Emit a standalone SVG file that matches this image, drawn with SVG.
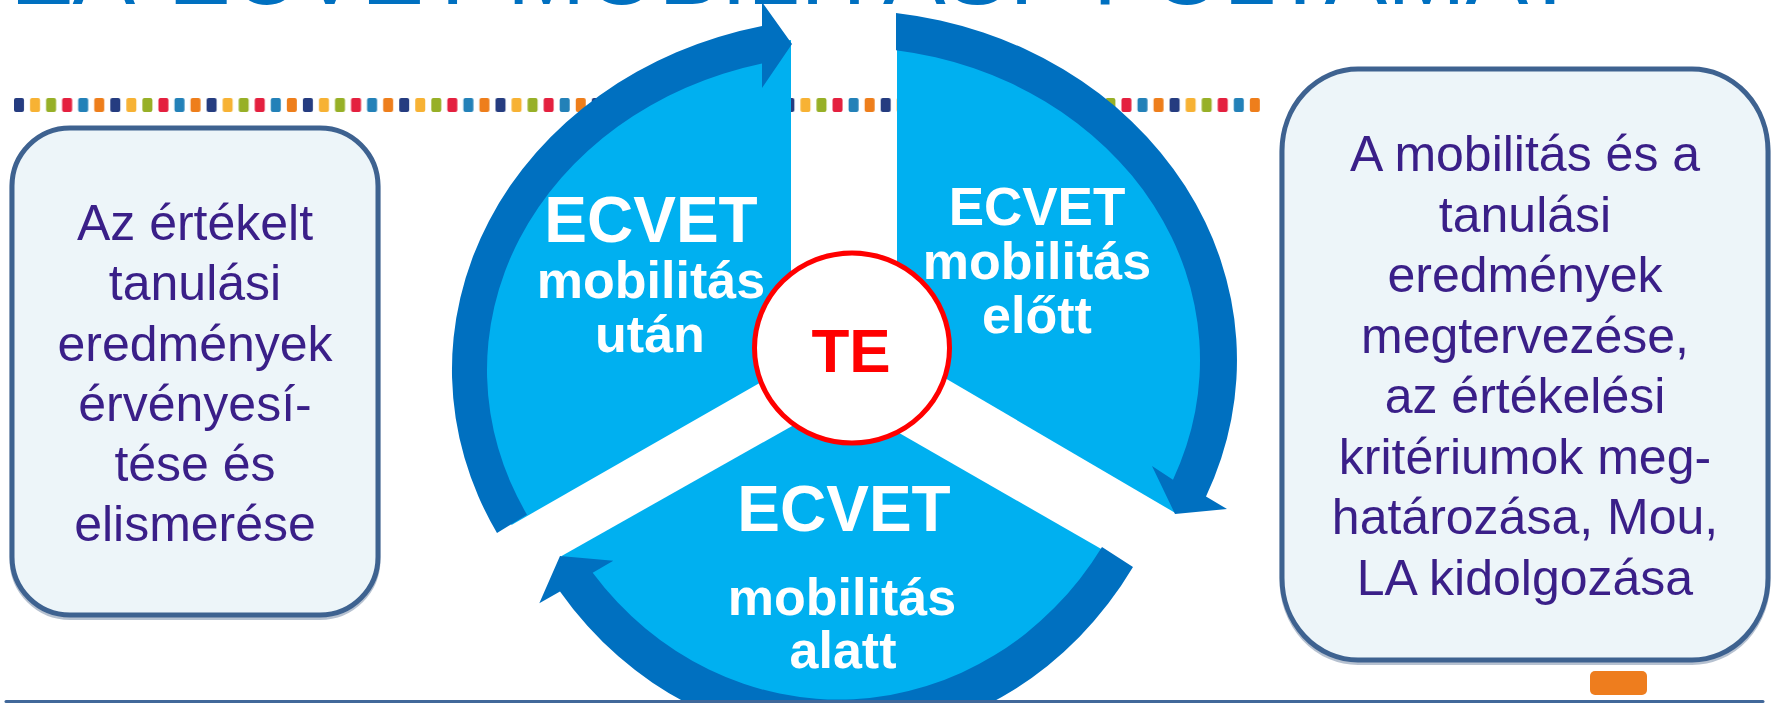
<svg xmlns="http://www.w3.org/2000/svg" width="1771" height="703" viewBox="0 0 1771 703">
<style>
.title{font-family:"Liberation Sans",Arial,sans-serif;font-size:94px;fill:#0070C0}
.box{fill:#EDF5F9;stroke:#3E6290;stroke-width:5}
.shadow{fill:none;stroke:#2E4C78;stroke-width:5;opacity:0.35}
.btxt{font-family:"Liberation Sans",Arial,sans-serif;font-size:50px;fill:#3A1F88;text-anchor:middle}
.wt{font-family:"Liberation Sans",Arial,sans-serif;font-weight:bold;fill:#FFFFFF;text-anchor:middle}
.sector{fill:#00B0F0}
.band{fill:#0070C0}
</style>
<defs>
<pattern id="dots" x="14" y="98" width="96.3" height="14" patternUnits="userSpaceOnUse">
<rect x="0" y="0" width="10" height="14" rx="2" fill="#253C80"/>
<rect x="16.05" y="0" width="10" height="14" rx="2" fill="#F7B234"/>
<rect x="32.1" y="0" width="10" height="14" rx="2" fill="#97B027"/>
<rect x="48.15" y="0" width="10" height="14" rx="2" fill="#E4203F"/>
<rect x="64.2" y="0" width="10" height="14" rx="2" fill="#2381B8"/>
<rect x="80.25" y="0" width="10" height="14" rx="2" fill="#EE7E1B"/>
</pattern>
<clipPath id="clipL"><polygon points="791,365 791,-10 300,-10 300,646"/></clipPath>
<clipPath id="clipR"><polygon points="897,350 897,-10 1300,-10 1300,586"/></clipPath>
<clipPath id="clipB"><polygon points="840,399 400,647 400,800 1300,800 1300,663"/></clipPath>
</defs>
<rect x="0" y="0" width="1771" height="703" fill="#FFFFFF"/>
<g id="title">
<text class="title" y="3.5"><tspan x="15">ZA</tspan><tspan x="168">ECVET</tspan><tspan x="507">MOBILITÁSI</tspan><tspan x="1093">FOLYAMAT</tspan></text>
</g>
<g id="dot-strip">
<rect x="14" y="98" width="1246" height="14" fill="url(#dots)"/>
</g>
<g id="sector-utan">
<ellipse class="sector" cx="845" cy="370" rx="376.5" ry="333.5" clip-path="url(#clipL)"/>
<text class="wt" x="651" y="242" font-size="64">ECVET</text>
<text class="wt" x="651" y="298" font-size="52">mobilitás</text>
<text class="wt" x="650" y="352" font-size="52">után</text>
</g>
<g id="sector-elott">
<ellipse class="sector" cx="845" cy="360" rx="373.5" ry="331.5" clip-path="url(#clipR)"/>
<text class="wt" x="1037" y="225" font-size="53">ECVET</text>
<text class="wt" x="1037" y="279" font-size="52">mobilitás</text>
<text class="wt" x="1037" y="333" font-size="52">előtt</text>
</g>
<g id="sector-alatt">
<ellipse class="sector" cx="840" cy="360" rx="332.5" ry="358" clip-path="url(#clipB)"/>
<text class="wt" x="844" y="531" font-size="64">ECVET</text>
<text class="wt" x="842" y="615" font-size="52">mobilitás</text>
<text class="wt" x="843" y="668" font-size="52">alatt</text>
</g>
<g id="connectors">
<path class="band" d="M497,533 A395,352 0 0 1 762,26 L762,2 L792,44 L762,88 L762,63.6 A358,315 0 0 0 527,514.7 Z"/>
<path class="band" d="M896,13 A392,350 0 0 1 1206,496.4 L1227,509 L1175,514 L1152,466 L1173,479.7 A355,313 0 0 0 896,50.2 Z"/>
<path class="band" d="M1133,567 A350,378 0 0 1 560,591.4 L539.3,603.3 L560,556 L613.3,560.7 L592.7,572.7 A315,338 0 0 0 1102,547 Z"/>
</g>
<g id="center-te">
<ellipse cx="852" cy="348" rx="97.5" ry="95" fill="#FFFFFF" stroke="#FF0000" stroke-width="5"/>
<text x="851" y="372" font-family="'Liberation Sans',Arial,sans-serif" font-weight="bold" font-size="62" fill="#FF0000" text-anchor="middle">TE</text>
</g>
<g id="box-left">
<rect class="shadow" x="12" y="130.5" width="366" height="487" rx="58" ry="58"/>
<rect class="box" x="12" y="128" width="366" height="487" rx="58" ry="58"/>
<text class="btxt" x="195" y="240">Az értékelt</text>
<text class="btxt" x="195" y="300">tanulási</text>
<text class="btxt" x="195" y="360.5">eredmények</text>
<text class="btxt" x="195" y="421">érvényesí-</text>
<text class="btxt" x="195" y="481">tése és</text>
<text class="btxt" x="195" y="541">elismerése</text>
</g>
<g id="box-right">
<rect class="shadow" x="1282" y="71.5" width="486" height="591" rx="76" ry="82"/>
<rect class="box" x="1282" y="69" width="486" height="591" rx="76" ry="82"/>
<text class="btxt" x="1525" y="171">A mobilitás és a</text>
<text class="btxt" x="1525" y="231.5">tanulási</text>
<text class="btxt" x="1525" y="292">eredmények</text>
<text class="btxt" x="1525" y="352.5">megtervezése,</text>
<text class="btxt" x="1525" y="413">az értékelési</text>
<text class="btxt" x="1525" y="473.5">kritériumok meg-</text>
<text class="btxt" x="1525" y="534">határozása, Mou,</text>
<text class="btxt" x="1525" y="594.5">LA kidolgozása</text>
</g>
<g id="footer">
<rect x="1590" y="671" width="57" height="24" rx="5" fill="#EE7D1E"/>
<line x1="6" y1="701.5" x2="1763" y2="701.5" stroke="#41689A" stroke-width="3" stroke-linecap="round"/>
</g>
</svg>
